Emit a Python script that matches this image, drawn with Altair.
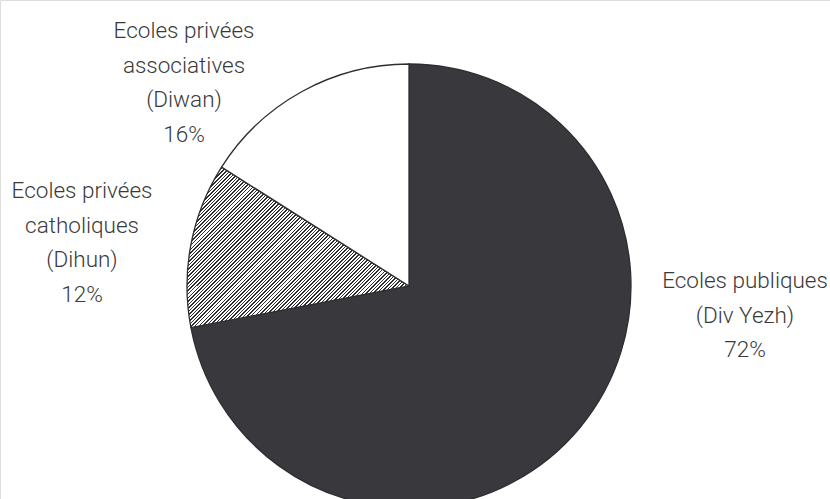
import altair as alt
import pandas as pd

# ---- data ----
categories = ["Div Yezh", "Dihun", "Diwan"]
label_lines = [
    ["Ecoles publiques", "(Div Yezh)"],
    ["Ecoles privées", "catholiques", "(Dihun)"],
    ["Ecoles privées", "associatives", "(Diwan)"],
]
shares = [72, 12, 16]

# ---- layout / style constants ----
CX, CY, R = 409, 286, 222
label_x = [745, 82, 184]
label_y = [281, 191, 31]   # centre of the first line of each label
DARK = "#39383d"
LINE = "#2e2e30"
FONT = "Roboto"

# diagonal hatching built as a striped linear gradient
periods = 108
dark_frac = 0.42
stops = []
for i in range(periods):
    a = i / periods
    b = (i + dark_frac) / periods
    c = (i + 1) / periods
    stops += [
        {"offset": a, "color": LINE},
        {"offset": b, "color": LINE},
        {"offset": b, "color": "white"},
        {"offset": c, "color": "white"},
    ]
hatch = {"gradient": "linear", "x1": 0, "y1": 0, "x2": 1.131, "y2": 0.818, "stops": stops}

df = pd.DataFrame({
    "cat": categories,
    "share": shares,
    "idx": list(range(len(categories))),
    "label": ["\n".join(l + [f"{s}%"]) for l, s in zip(label_lines, shares)],
    "lx": label_x,
    "ly": label_y,
})

base = alt.Chart(df)

pie = base.mark_arc(radius=R, stroke=LINE, strokeWidth=1.3).encode(
    theta=alt.Theta("share:Q", stack=True),
    order=alt.Order("idx:O"),
    x=alt.value(CX),
    y=alt.value(CY),
    fill={
        "condition": [
            {"test": "datum.cat === 'Dihun'", "value": hatch},
            {"test": "datum.cat === 'Div Yezh'", "value": DARK},
        ],
        "value": "white",
    },
)

labels = base.mark_text(
    font=FONT, fontSize=22.5, fontWeight=300, lineHeight=34.5, lineBreak="\n",
    align="center", baseline="middle", color="#3a3a3a",
).encode(
    x=alt.X("lx:Q", scale=None),
    y=alt.Y("ly:Q", scale=None),
    text="label:N",
)

chart = alt.layer(pie, labels).properties(
    width=830, height=499, padding=0, autosize=alt.AutoSizeParams(type="none"),
).configure_view(stroke=None).configure(background="white")

chart.save("out.html", embed_options={"renderer": "svg", "actions": False})
